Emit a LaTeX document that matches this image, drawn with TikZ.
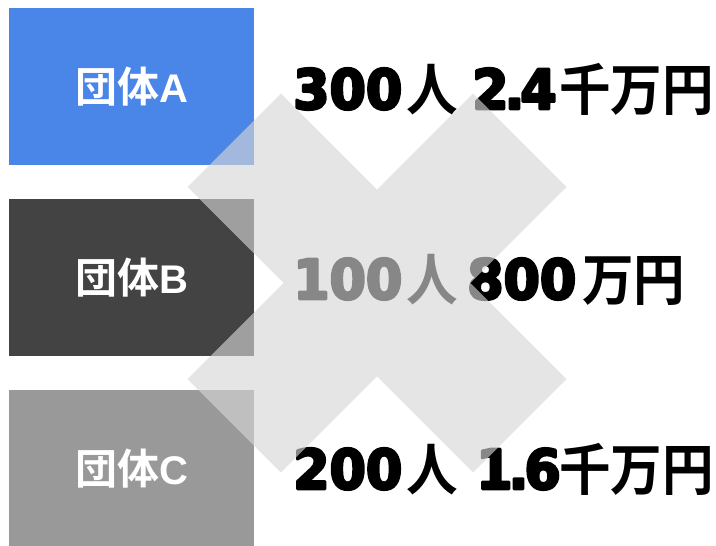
\documentclass[tikz,border=0pt]{standalone}
\usepackage{fontspec}
\usetikzlibrary{calc}
\newfontfamily\jpfont{Noto Sans CJK JP}[UprightFont=* Bold]
\newfontfamily\jpbig{Noto Sans CJK JP}[UprightFont=* Bold, FakeStretch=0.92]
\newfontfamily\latfont{Liberation Sans}[UprightFont=* Bold]
\newfontfamily\numfont{DejaVu Sans}[UprightFont=* Bold, FakeStretch=0.95]
\definecolor{blueA}{HTML}{4A86E8}
\definecolor{darkB}{HTML}{434343}
\definecolor{grayC}{HTML}{999999}
\definecolor{xgray}{RGB}{214,214,214}
\newcommand{\heavy}[1]{\special{pdf:code 2 Tr 2.6 w 1 j}#1\special{pdf:code 0 Tr 0.4 w}}
\tikzset{
  groupbox/.style={rectangle, draw=none, minimum width=245pt, minimum height=157pt, inner sep=0pt, text=white},
  numtxt/.style={anchor=base west, inner sep=0pt, text=black, font=\numfont\fontsize{55}{55}\selectfont},
  kanjitxt/.style={anchor=base west, inner sep=0pt, text=black, font=\jpbig\fontsize{56}{56}\selectfont},
  crossmark/.style={fill=xgray, fill opacity=0.63, draw=none}
}
\newcommand{\grp}[1]{{\jpfont\fontsize{42}{42}\selectfont 団体}{\latfont\fontsize{40}{40}\selectfont #1}}
\newcommand{\pt}{\kern-4pt.\kern-4pt}
\begin{document}
\begin{tikzpicture}[x=1pt,y=-1pt]
\useasboundingbox (0,0) rectangle (716,546);
% group boxes
\node[groupbox, fill=blueA] (A) at (131.5,86.5) {\grp{A}};
\node[groupbox, fill=darkB] (B) at (131.5,277.5) {\grp{B}};
\node[groupbox, fill=grayC] (C) at (131.5,468.5) {\grp{C}};
% row A
\node[numtxt] (a1) at (293,109) {\heavy{300}};
\node[kanjitxt] (a2) at (406,110) {人};
\node[numtxt] (a3) at (472,109) {\heavy{2\pt4}};
\node[kanjitxt] (a4) at (559,110) {千万円};
% row B
\node[numtxt] (b1) at (293,299) {\heavy{100}};
\node[kanjitxt] (b2) at (406,300) {人};
\node[numtxt] (b3) at (467,299) {\heavy{800}};
\node[kanjitxt] (b4) at (582,300) {万円};
% row C
\node[numtxt] (c1) at (293,489) {\heavy{200}};
\node[kanjitxt] (c2) at (406,490) {人};
\node[numtxt] (c3) at (476,489) {\heavy{1\pt6}};
\node[kanjitxt] (c4) at (559,490) {千万円};
% cross
\coordinate (xc) at (377,283);
\fill[crossmark] ($(xc)+(-96,-189.5)$) -- ($(xc)+(-189.5,-96)$) -- ($(xc)+(-93.4,0)$)
  -- ($(xc)+(-189.5,96)$) -- ($(xc)+(-96,189.5)$) -- ($(xc)+(0,93.4)$)
  -- ($(xc)+(96,189.5)$) -- ($(xc)+(189.5,96)$) -- ($(xc)+(93.4,0)$)
  -- ($(xc)+(189.5,-96)$) -- ($(xc)+(96,-189.5)$) -- ($(xc)+(0,-93.4)$) -- cycle;
\end{tikzpicture}
\end{document}
